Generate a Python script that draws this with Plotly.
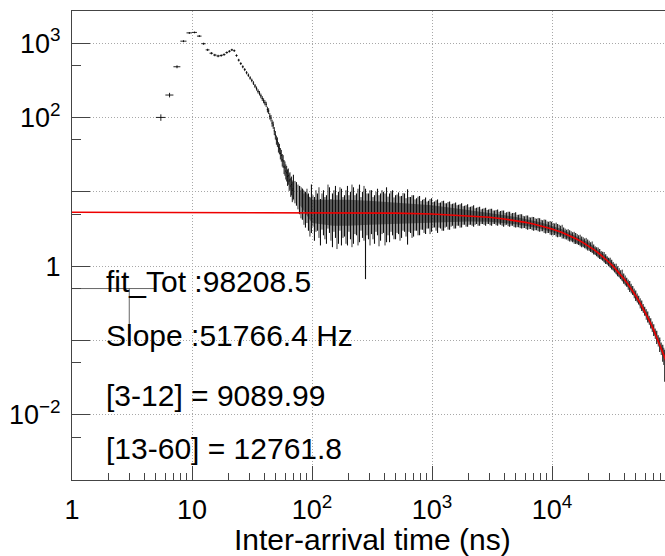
import numpy as np
import plotly.graph_objects as go

# ---------------- data ----------------
# first (wide) bin: [1, 5] ns
first_bin_x = [3.0]
first_bin_halfwidth = [2.0]
first_bin_y = [0.5]
first_bin_err_low = [0.4]

# 1 ns bins in the peak region (bin centres, counts)
peak_x = [5.5, 6.5, 7.5, 8.5, 9.5, 10.5, 11.5, 12.5, 13.5, 14.5,
          15.5, 16.5, 17.5, 18.5, 19.5, 20.5, 21.5, 22.5, 23.5, 24.5,
          25.5, 26.5, 27.5, 28.5, 29.5, 30.5, 31.5, 32.5, 33.5, 34.5,
          35.5, 36.5, 37.5, 38.5, 39.5, 40.5, 41.5, 42.5, 43.5, 44.5,
          45.5, 46.5, 47.5, 48.5, 49.5, 50.5, 51.5, 52.5, 53.5, 54.5,
          55.5, 56.5, 57.5, 58.5, 59.5, 60.5, 61.5, 62.5, 63.5, 64.5,
          65.5, 66.5, 67.5, 68.5, 69.5]
peak_y = [100, 200, 480, 1060, 1370, 1390, 1240, 980, 810, 730,
          690, 670, 680, 700, 745, 775, 810, 790, 680, 590,
          530, 480, 440, 400, 370, 340, 315, 290, 265, 245,
          225, 212, 195, 180, 168, 158, 150, 128, 122, 104,
          98, 84, 79, 66, 58, 50, 47, 40, 38, 33,
          31, 27, 26, 22, 21, 19, 18, 16, 16.5, 14,
          14.5, 12, 12.5, 10.5, 11]

# dense noisy region: per drawn column, lowest and highest extent of the band
band_x = [70, 74.2, 78.6, 83.2, 88.2, 93.4, 98.9, 104.8, 111, 117.6,
          124.6, 132, 139.8, 148.1, 156.9, 166.2, 176, 186.5, 197.5, 209.2,
          221.6, 234.8, 248.7, 263.5, 279.1, 295.6, 313.2, 331.7, 351.4, 372.3,
          394.4, 417.7, 442.5, 468.8, 496.6, 526, 557.2, 590.3, 625.3, 662.4,
          701.6, 743.3, 787.4, 834, 883.5, 935.9, 991.4, 1050, 1112, 1178,
          1248, 1322, 1401, 1484, 1572, 1665, 1764, 1868, 1979, 2096,
          2221, 2352, 2492, 2640, 2796, 2962, 3138, 3324, 3521, 3730,
          3951, 4185, 4433, 4696, 4975, 5270, 5582, 5913, 6264, 6635,
          7029, 7446, 7887, 8355, 8850, 9375, 9931, 10520, 11140, 11800,
          12500, 13250, 14030, 14860, 15750, 16680, 17670, 18720, 19830, 21000,
          22250, 23570, 24970, 26450, 28020, 29680, 31440, 33300, 35280, 37370,
          39590, 41930, 44420, 47060, 49850, 52800, 55930, 59250, 62770, 66490,
          70430, 74610, 79030, 83720, 87000]
band_lo = [8.0, 6.5, 5.0, 4.2, 3.3, 3.0, 2.8, 2.2, 3.0, 1.9,
           2.6, 2.0, 2.8, 1.8, 2.4, 2.0, 1.9, 2.5, 1.9, 2.3,
           2.0, 2.6, 2.1, 2.4, 0.67, 2.3, 2.7, 2.0, 2.6, 2.2,
           2.8, 2.1, 2.1, 2.6, 2.3, 2.7, 2.4, 2.9, 1.95, 2.8,
           2.5, 3.0, 2.6, 3.1, 2.7, 3.2, 2.9, 3.3, 2.8, 3.2,
           3.0, 3.4, 3.1, 3.5, 3.2, 3.5, 3.3, 3.6, 3.4, 3.6,
           3.4, 3.7, 3.5, 3.7, 3.5, 3.7, 3.5, 3.7, 3.5, 3.6,
           3.4, 3.6, 3.4, 3.5, 3.3, 3.35, 3.2, 3.25, 3.1, 3.15,
           3.0, 3.05, 2.9, 2.95, 2.75, 2.8, 2.6, 2.62, 2.45, 2.48,
           2.35, 2.28, 2.15, 2.1, 1.98, 1.92, 1.8, 1.74, 1.62, 1.55,
           1.43, 1.36, 1.25, 1.19, 1.07, 1.0, 0.9, 0.83, 0.73, 0.67,
           0.58, 0.53, 0.45, 0.41, 0.34, 0.305, 0.25, 0.215, 0.175, 0.145,
           0.115, 0.09, 0.07, 0.052, 0.028]
band_hi = [17, 13.5, 12, 11, 10, 9.5, 12.5, 8.5, 9.5, 8.0,
           10.5, 9.0, 11.5, 9.5, 12, 10, 11, 9.0, 12, 10,
           11.5, 9.5, 12.5, 10, 11, 9.5, 10.5, 9.0, 11, 9.5,
           10, 11.5, 9.5, 10.5, 9.0, 9.8, 8.8, 9.5, 10.8, 8.5,
           9.0, 8.2, 8.8, 7.8, 8.4, 7.6, 8.2, 7.4, 7.9, 7.2,
           7.6, 7.0, 7.4, 6.9, 7.2, 6.7, 7.0, 6.5, 6.8, 6.3,
           6.6, 6.1, 6.3, 5.9, 6.1, 5.8, 5.9, 5.6, 5.8, 5.5,
           5.6, 5.3, 5.4, 5.2, 5.3, 4.9, 5.0, 4.7, 4.8, 4.5,
           4.6, 4.35, 4.4, 4.15, 4.2, 3.95, 3.95, 3.75, 3.7, 3.5,
           3.3, 3.1, 3.05, 2.85, 2.8, 2.6, 2.5, 2.35, 2.28, 2.1,
           1.95, 1.8, 1.7, 1.56, 1.45, 1.3, 1.22, 1.08, 1.0, 0.88,
           0.8, 0.7, 0.63, 0.54, 0.47, 0.4, 0.345, 0.285, 0.245, 0.2,
           0.165, 0.135, 0.11, 0.088, 0.075]

# second interleaved set of columns
band2_x = [72.1, 76.4, 80.9, 85.7, 90.8, 96.1, 101.8, 107.9, 114.3, 121.1,
           128.2, 135.9, 143.9, 152.4, 161.5, 171, 181.2, 192, 203.3, 215.3,
           228.1, 241.7, 256, 271.2, 287.2, 304.3, 322.3, 341.4, 361.7, 383.2,
           405.9, 430, 455.5, 482.5, 511.1, 541.4, 573.5, 607.5, 643.6, 681.7,
           722.2, 765, 810.4, 858.4, 909.3, 963.2, 1020, 1081, 1145, 1213,
           1285, 1361, 1442, 1527, 1618, 1714, 1815, 1923, 2037, 2158,
           2286, 2421, 2565, 2717, 2878, 3049, 3230, 3421, 3624, 3839,
           4067, 4308, 4563, 4834, 5121, 5424, 5746, 6086, 6447, 6829,
           7234, 7663, 8118, 8599, 9109, 9649, 10220, 10830, 11470, 12150,
           12870, 13630, 14440, 15300, 16210, 17170, 18190, 19270, 20410, 21620,
           22900, 24260, 25700, 27220, 28840, 30550, 32360, 34280, 36310, 38470,
           40750, 43160, 45720, 48440, 51300, 54340, 57570, 60980, 64600, 68430,
           72490, 76790, 81340, 85350]
band2_lo = [7.0, 5.8, 4.4, 3.6, 3.8, 2.5, 3.4, 2.9, 2.4, 3.1,
            2.3, 3.2, 2.2, 2.9, 1.7, 3.0, 2.4, 2.0, 2.9, 1.8,
            2.7, 1.9, 3.0, 2.2, 2.6, 1.9, 2.3, 2.9, 1.85, 2.7,
            1.9, 2.6, 2.9, 2.3, 2.8, 2.2, 3.0, 2.5, 2.9, 2.4,
            3.0, 2.6, 3.1, 2.8, 3.2, 2.7, 3.3, 3.0, 3.3, 3.0,
            3.3, 3.1, 3.4, 3.2, 3.5, 3.3, 3.6, 3.4, 3.6, 3.5,
            3.6, 3.5, 3.7, 3.6, 3.7, 3.55, 3.7, 3.55, 3.65, 3.5,
            3.55, 3.45, 3.5, 3.35, 3.35, 3.25, 3.25, 3.15, 3.15, 3.05,
            3.05, 2.95, 2.95, 2.8, 2.8, 2.65, 2.6, 2.5, 2.48, 2.35,
            2.3, 2.2, 2.15, 2.0, 1.97, 1.85, 1.8, 1.68, 1.6, 1.5,
            1.42, 1.3, 1.24, 1.12, 1.06, 0.95, 0.88, 0.78, 0.72, 0.63,
            0.55, 0.48, 0.43, 0.37, 0.325, 0.27, 0.235, 0.19, 0.163, 0.13,
            0.105, 0.083, 0.064, 0.047]
band2_hi = [14, 12.5, 10.5, 9.5, 11, 8.5, 9.0, 10.5, 11.5, 9.5,
            8.5, 12.5, 8.0, 10.5, 9.0, 11.5, 8.5, 10.5, 9.0, 12.5,
            9.0, 11, 8.5, 12, 9.5, 10.5, 8.5, 10, 9.0, 10.5,
            9.5, 8.6, 10.2, 8.4, 9.2, 8.7, 9.6, 8.2, 8.5, 9.0,
            7.9, 8.6, 7.5, 8.0, 7.4, 8.0, 7.3, 7.7, 7.1, 7.5,
            7.0, 7.3, 6.8, 7.0, 6.6, 6.8, 6.4, 6.6, 6.2, 6.4,
            6.0, 6.2, 5.8, 6.0, 5.7, 5.9, 5.6, 5.7, 5.4, 5.6,
            5.2, 5.4, 5.1, 5.2, 4.9, 5.0, 4.75, 4.8, 4.55, 4.6,
            4.4, 4.45, 4.2, 4.25, 4.0, 4.05, 3.8, 3.85, 3.6, 3.6,
            3.2, 3.15, 2.95, 2.9, 2.7, 2.65, 2.45, 2.4, 2.2, 2.15,
            1.85, 1.78, 1.6, 1.55, 1.36, 1.3, 1.14, 1.08, 0.94, 0.9,
            0.75, 0.66, 0.58, 0.5, 0.43, 0.37, 0.31, 0.265, 0.215, 0.18,
            0.145, 0.118, 0.094, 0.08]

# dense core of the band
core_x = [80, 100, 150, 200, 300, 500, 1000, 2000, 3000, 5000,
          8000, 12000, 20000, 30000, 45000, 60000, 75000, 87000]
core_lo = [6.5, 3.8, 3.5, 3.5, 3.6, 3.7, 3.9, 4.0, 3.95, 3.65,
           3.2, 2.6, 1.7, 1.0, 0.47, 0.215, 0.099, 0.053]
core_hi = [12, 7.8, 7.8, 7.8, 7.6, 7.2, 6.6, 5.7, 5.2, 4.6,
           3.9, 3.15, 2.1, 1.26, 0.57, 0.262, 0.122, 0.067]

# red fit curve (read points)
fit_x = [1, 100, 500, 1000, 2000, 3000, 4000, 5000, 6000, 7000,
         8000, 9000, 10000, 12000, 14000, 16000, 18000, 20000, 22500, 25000,
         27500, 30000, 32500, 35000, 37500, 40000, 42500, 45000, 47500, 50000,
         55000, 60000, 65000, 70000, 75000, 80000, 85000, 90000]
fit_y = [5.3, 5.27, 5.16, 5.03, 4.78, 4.54, 4.31, 4.09, 3.885, 3.69,
         3.50, 3.33, 3.16, 2.85, 2.57, 2.315, 2.09, 1.88, 1.654, 1.453,
         1.276, 1.121, 0.985, 0.866, 0.761, 0.668, 0.587, 0.516, 0.453, 0.398,
         0.307, 0.237, 0.183, 0.1415, 0.109, 0.0843, 0.0651, 0.0502]

stat_lines = ["fit_Tot :98208.5", "Slope :51766.4 Hz",
              "[3-12] = 9089.99", "[13-60] = 12761.8"]
x_title = "Inter-arrival time (ns)"

x_tickvals = [1, 10, 100, 1000, 10000]
x_ticktext = ["1", "10", "10<sup>2</sup>", "10<sup>3</sup>", "10<sup>4</sup>"]
y_tickvals = [0.01, 0.1, 1, 10, 100, 1000]
y_ticktext = ["10<sup>\u22122</sup>", "", "1", "", "10<sup>2</sup>", "10<sup>3</sup>"]
x_minor = [m * 10 ** k for k in range(5) for m in range(2, 10) if m * 10 ** k < 87000]
y_minor = [0.005, 0.05, 0.5, 5, 50, 500]

# ---------------- figure ----------------
FONT = "Liberation Sans, Arial, Helvetica, sans-serif"
W, H = 665, 556
ML, MR, MT, MB = 72, 0, 11, 76
pw = W - ML - MR
ph = H - MT - MB
fig = go.Figure()

# core fill
fig.add_trace(go.Scatter(
    x=core_x + core_x[::-1], y=core_lo + core_hi[::-1],
    fill="toself", fillcolor="rgba(0,0,0,0.5)", line=dict(width=0),
    mode="lines", hoverinfo="skip", showlegend=False))


def segments(xs, los, his):
    sx, sy = [], []
    for xv, lo, hi in zip(xs, los, his):
        sx += [xv, xv, None]
        sy += [lo, hi, None]
    return sx, sy


sx, sy = segments(band_x, band_lo, band_hi)
fig.add_trace(go.Scatter(x=sx, y=sy, mode="lines",
                         line=dict(color="#111111", width=1.1),
                         hoverinfo="skip", showlegend=False))
sx, sy = segments(band2_x, band2_lo, band2_hi)
fig.add_trace(go.Scatter(x=sx, y=sy, mode="lines",
                         line=dict(color="#333333", width=1.0),
                         hoverinfo="skip", showlegend=False))

# peak bins with error bars
fig.add_trace(go.Scatter(
    x=peak_x, y=peak_y, mode="markers",
    marker=dict(size=1, color="black"),
    error_x=dict(type="constant", value=0.5, width=0, thickness=1, color="#222"),
    error_y=dict(type="data", array=list(np.sqrt(peak_y)), width=0, thickness=1, color="#222"),
    showlegend=False))

# first wide bin
fig.add_trace(go.Scatter(
    x=first_bin_x, y=first_bin_y, mode="markers",
    marker=dict(size=1, color="#555"),
    error_x=dict(type="data", array=first_bin_halfwidth, width=0, thickness=1, color="#666"),
    error_y=dict(type="data", symmetric=False, array=[0], arrayminus=first_bin_err_low,
                 width=0, thickness=1, color="#666"),
    showlegend=False))

# fit
fig.add_trace(go.Scatter(x=fit_x, y=fit_y, mode="lines",
                         line=dict(color="#ee0000", width=1.6),
                         hoverinfo="skip", showlegend=False))

# stats text
stat_y_px = [281, 335, 395, 448]
for txt, ypx in zip(stat_lines, stat_y_px):
    fig.add_annotation(text=txt, xref="paper", yref="paper",
                       x=(104 - ML) / pw, y=(H - MB - ypx) / ph,
                       xanchor="left", yanchor="middle", showarrow=False,
                       font=dict(family=FONT, size=30, color="black"))

# x axis title
fig.add_annotation(text=x_title, xref="paper", yref="paper",
                   x=(372 - ML) / pw, y=(H - MB - 539) / ph,
                   xanchor="center", yanchor="middle", showarrow=False,
                   font=dict(family=FONT, size=30, color="black"))

grid = dict(showgrid=True, gridcolor="#a8a8a8", griddash="1px,2px", gridwidth=1)

fig.update_layout(
    width=W, height=H, margin=dict(l=ML, r=MR, t=MT, b=MB),
    paper_bgcolor="white", plot_bgcolor="white",
    font=dict(family=FONT, color="black"),
    showlegend=False,
    xaxis=dict(type="log", range=[0, np.log10(87400)],
               tickmode="array", tickvals=x_tickvals, ticktext=x_ticktext,
               tickfont=dict(size=27), ticks="inside", ticklen=14, tickcolor="#444",
               ticklabelstandoff=6,
               showline=True, linecolor="#444", linewidth=1, mirror=True,
               zeroline=False, automargin=False,
               minor=dict(tickmode="array", tickvals=x_minor, ticks="inside",
                          ticklen=7, tickcolor="#444", showgrid=False),
               **grid),
    yaxis=dict(type="log", range=[-2.875, 3.431],
               tickmode="array", tickvals=y_tickvals, ticktext=y_ticktext,
               tickfont=dict(size=27), ticks="inside", ticklen=18, tickcolor="#444",
               ticklabelstandoff=5,
               showline=True, linecolor="#444", linewidth=1, mirror=False,
               zeroline=False, automargin=False,
               minor=dict(tickmode="array", tickvals=y_minor, ticks="inside",
                          ticklen=9, tickcolor="#444", showgrid=False),
               **grid),
)

fig.write_html("out.html")
